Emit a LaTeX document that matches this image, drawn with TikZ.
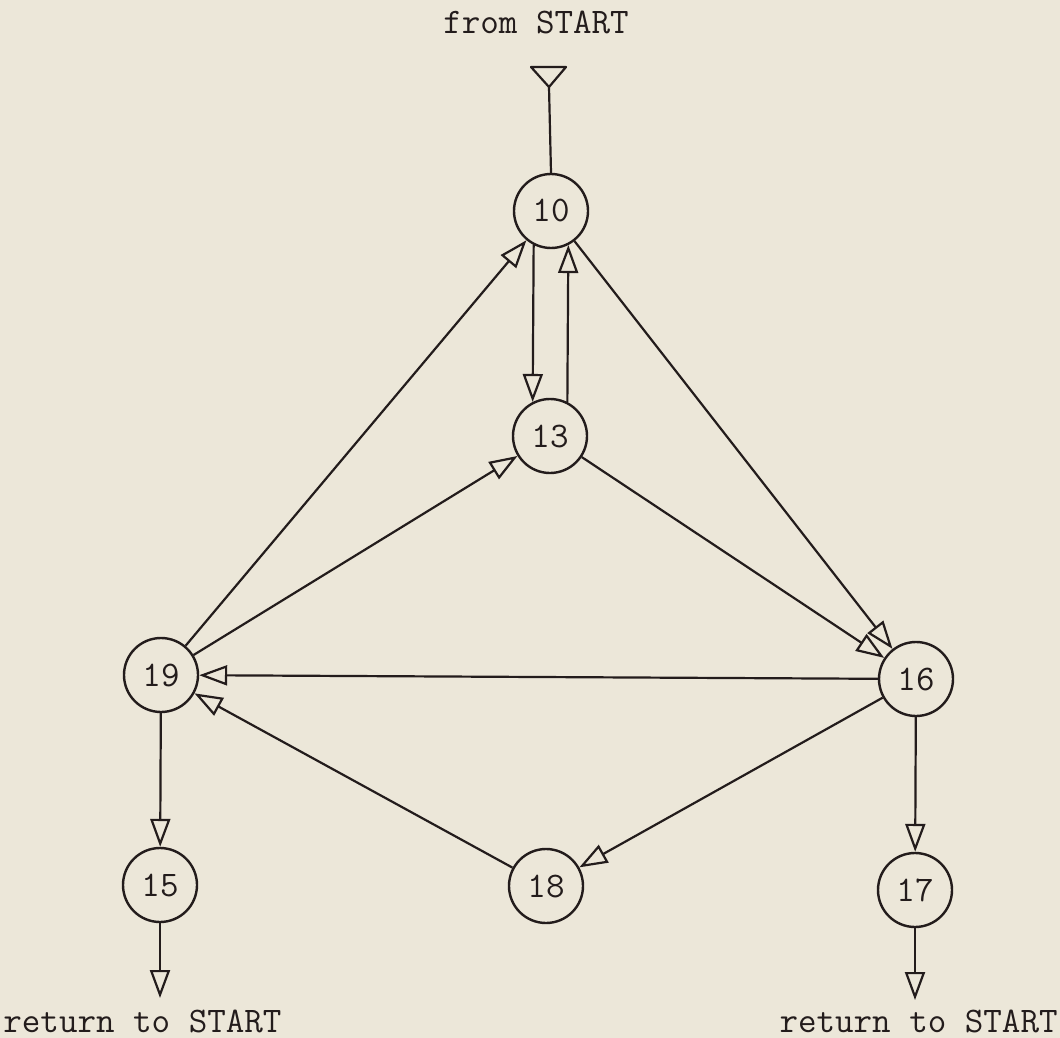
\documentclass[tikz,border=0pt]{standalone}
\usetikzlibrary{arrows.meta}
\definecolor{paper}{RGB}{236,231,217}
\definecolor{ink}{RGB}{35,28,28}
\begin{document}
\begin{tikzpicture}[x=0.5pt,y=-0.5pt,
  state/.style={circle,draw=ink,line width=1.2pt,minimum size=37pt,inner sep=0pt,
    font=\fontsize{18}{20}\selectfont\ttfamily,text=ink},
  lbl/.style={font=\fontsize{18}{20}\selectfont\ttfamily,text=ink,inner sep=0pt},
  edge/.style={draw=ink,line width=1.1pt,-{Triangle[length=14pt,width=10pt,fill=paper]}},
  plain/.style={draw=ink,line width=1.1pt},
  ]
\fill[paper] (0,0) rectangle (1060,1038);
\useasboundingbox (0,0) rectangle (1060,1038);

\node[state] (n10) at (551,211) {10};
\node[state] (n13) at (550,436) {13};
\node[state] (n19) at (161,675) {19};
\node[state] (n16) at (916,679) {16};
\node[state] (n15) at (160,885) {15};
\node[state] (n18) at (546,886) {18};
\node[state] (n17) at (915,890) {17};

\node[lbl] (from) at (536,22) {from START};
\node[lbl,anchor=base west] (ret1) at (3,1032) {return to START};
\node[lbl,anchor=base east] (ret2) at (1058,1032) {return to START};

% entry triangle
\coordinate (entrytip) at (549,87);
\draw[plain,line join=round,fill=paper] (531,67) -- (566,67) -- (entrytip) -- cycle;
\draw[plain] (entrytip) -- (n10.north);

% edges
\draw[edge] (n10.243) -- (n13.117);
\draw[edge] (n13.63) -- (n10.297);
\draw[edge] (n10) -- (n16);
\draw[edge] (n13) -- (n16);
\draw[edge] (n19) -- (n10);
\draw[edge] (n19) -- (n13);
\draw[edge] (n16) -- (n19);
\draw[edge] (n18) -- (n19);
\draw[edge] (n16) -- (n18);
\draw[edge] (n19) -- (n15);
\draw[edge] (n16) -- (n17);

% exits
\coordinate (out15) at (160,998);
\coordinate (out17) at (915,1000);
\draw[edge] (n15) -- (out15);
\draw[edge] (n17) -- (out17);
\end{tikzpicture}
\end{document}
